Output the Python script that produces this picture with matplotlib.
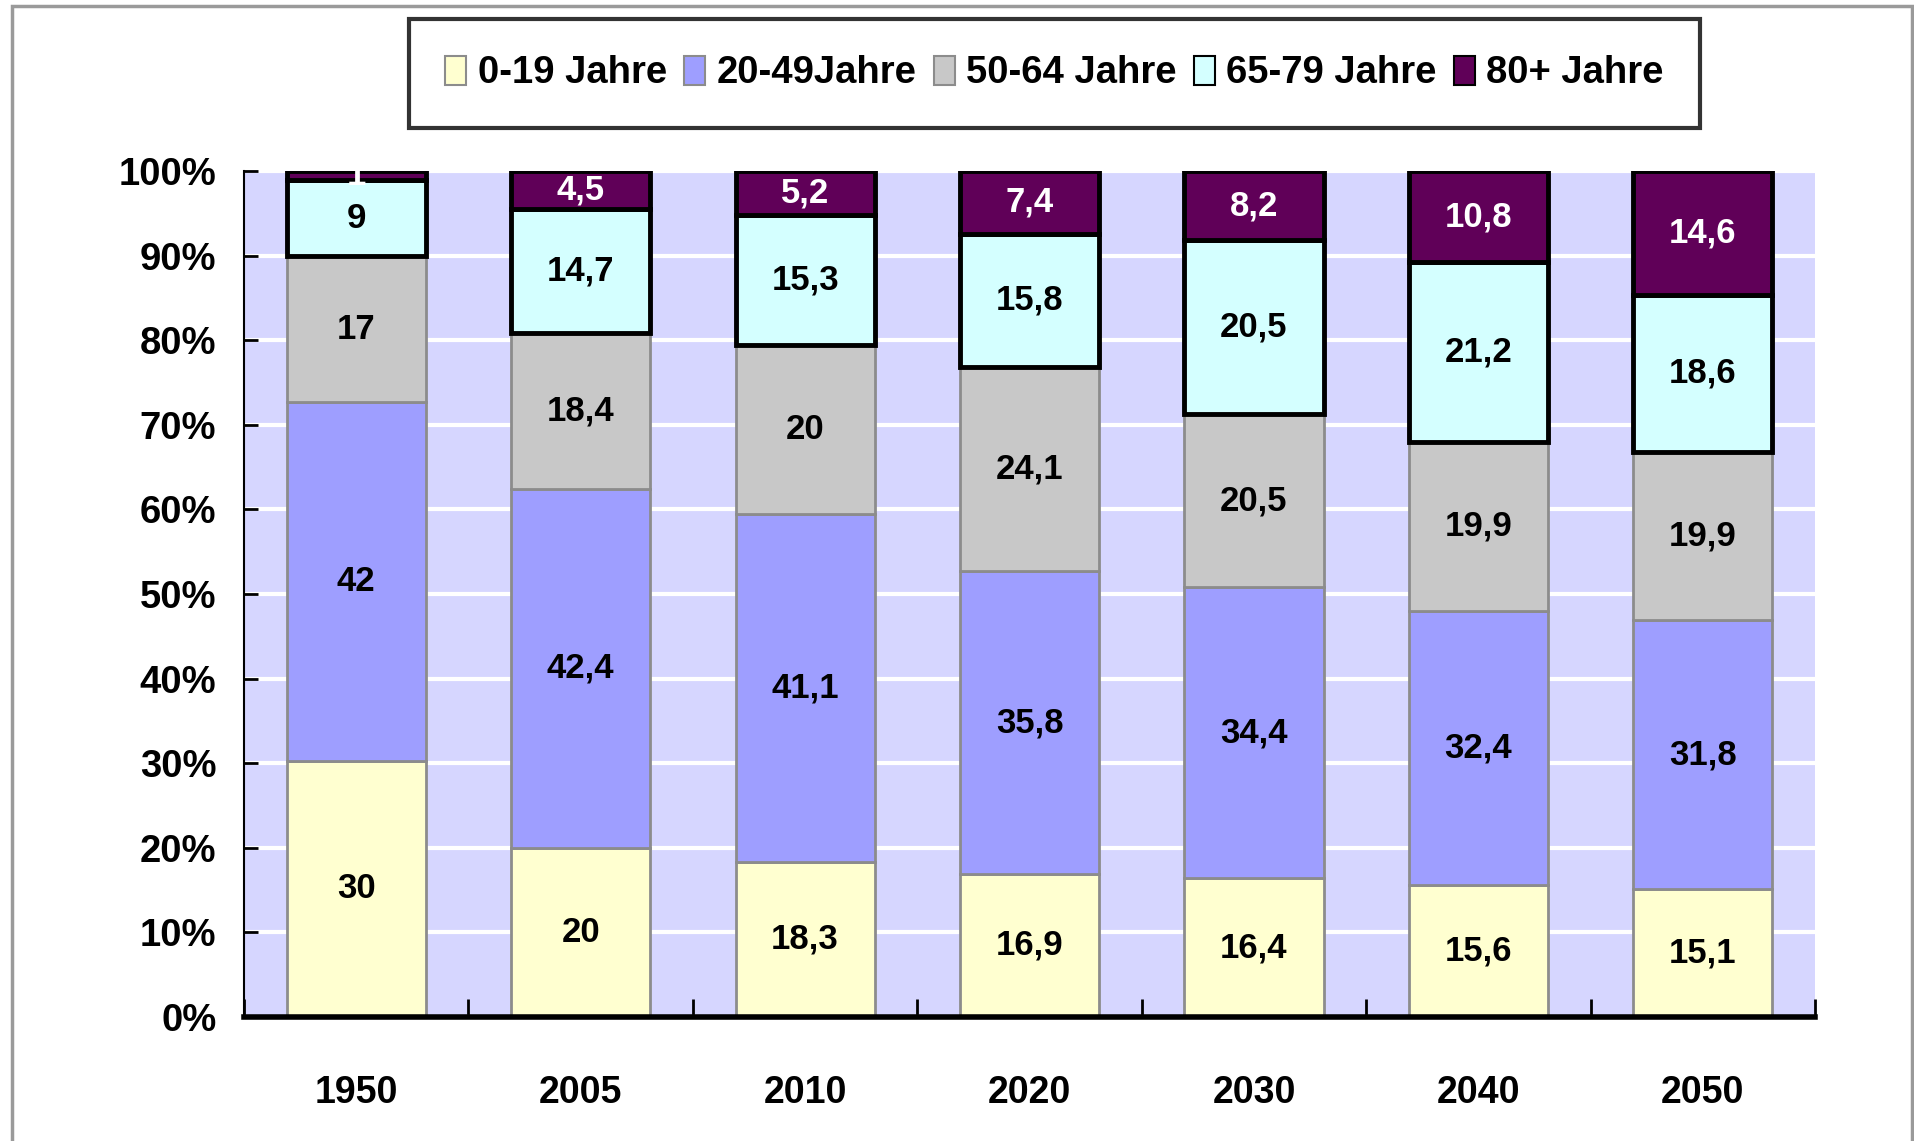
import matplotlib
matplotlib.use("Agg")
import matplotlib.pyplot as plt
from matplotlib.patches import Patch, Rectangle
import numpy as np

# data (values per year, shown as 100% stacked)
years = ["1950", "2005", "2010", "2020", "2030", "2040", "2050"]
age_groups = ["0-19 Jahre", "20-49Jahre", "50-64 Jahre", "65-79 Jahre", "80+ Jahre"]
v_0_19 = [30, 20, 18.3, 16.9, 16.4, 15.6, 15.1]
v_20_49 = [42, 42.4, 41.1, 35.8, 34.4, 32.4, 31.8]
v_50_64 = [17, 18.4, 20, 24.1, 20.5, 19.9, 19.9]
v_65_79 = [9, 14.7, 15.3, 15.8, 20.5, 21.2, 18.6]
v_80_plus = [1, 4.5, 5.2, 7.4, 8.2, 10.8, 14.6]
y_ticks = [0, 10, 20, 30, 40, 50, 60, 70, 80, 90, 100]

series = [v_0_19, v_20_49, v_50_64, v_65_79, v_80_plus]
fills = ["#FFFFD0", "#9E9EFF", "#C8C8C8", "#D4FFFF", "#600058"]
edges = ["#8C8C8C", "#8C8C8C", "#8C8C8C", "black", "black"]
edge_widths = [2.0, 2.0, 2.0, 3.5, 3.5]
label_colors = ["black", "black", "black", "black", "white"]

plt.rcParams["font.family"] = ["Liberation Sans", "DejaVu Sans"]
plt.rcParams["font.weight"] = "bold"

fig = plt.figure(figsize=(19.14, 11.41), dpi=100)
ax = fig.add_axes([0.1275, 0.1087, 0.8208, 0.7414])
ax.set_facecolor("#D6D6FF")

data = np.array(series, dtype=float)
shares = data / data.sum(axis=0) * 100

x = np.arange(len(years))
bar_width = 0.62
bottom = np.zeros(len(years))
for i, name in enumerate(age_groups):
    bars = ax.bar(x, shares[i], bar_width, bottom=bottom, color=fills[i],
                  edgecolor=edges[i], linewidth=edge_widths[i], zorder=3 + i * 0.1)
    for j, bar in enumerate(bars):
        txt = f"{series[i][j]:g}".replace(".", ",")
        t = ax.text(x[j], bottom[j] + shares[i][j] / 2, txt, ha="center", va="center",
                    fontsize=25, fontweight="bold", color=label_colors[i], zorder=5)
        if shares[i][j] < 3:
            # the tiny 1950 segment only shows a sliver of its label
            t.set_clip_path(bar)
    bottom += shares[i]

# axes styling
ax.set_xlim(-0.5, len(years) - 0.5)
ax.set_ylim(0, 100)
ax.set_yticks(y_ticks)
ax.set_yticklabels([f"{v}%" for v in y_ticks])
ax.yaxis.grid(True, color="white", linewidth=3, zorder=1)
ax.set_axisbelow(True)

ax.set_xticks(x)
ax.set_xticklabels(years)
ax.set_xticks(np.arange(-0.5, len(years)), minor=True)
ax.tick_params(axis="x", which="major", length=0, pad=42, labelsize=27)
ax.tick_params(axis="x", which="minor", direction="in", length=13, width=2, color="black")
ax.tick_params(axis="y", direction="in", length=10, width=2, pad=20, labelsize=27.5)

for side in ["top", "right"]:
    ax.spines[side].set_visible(False)
ax.spines["left"].set_linewidth(1.5)
ax.spines["bottom"].set_linewidth(4)
ax.spines["bottom"].set_zorder(6)

# legend
handles = [Patch(facecolor=fills[i], edgecolor=edges[i], linewidth=1.5, label=age_groups[i])
           for i in range(len(age_groups))]
leg = fig.legend(handles=handles, loc="center", bbox_to_anchor=(0.551, 0.9356), ncol=5,
                 fontsize=27.5, frameon=True, fancybox=False, handlelength=0.55,
                 handleheight=0.8, handletextpad=0.3, columnspacing=0.45, borderpad=0.95,
                 borderaxespad=0)
leg.get_frame().set_edgecolor("black")
leg.get_frame().set_linewidth(3)

# outer gray border of the chart area
fig.patches.append(Rectangle((12 / 1914, -0.05), 1900 / 1914, 1.05 - 6 / 1141,
                             transform=fig.transFigure, fill=False,
                             edgecolor="#9A9A9A", linewidth=2.5))

fig.savefig("out.png", dpi=100)
